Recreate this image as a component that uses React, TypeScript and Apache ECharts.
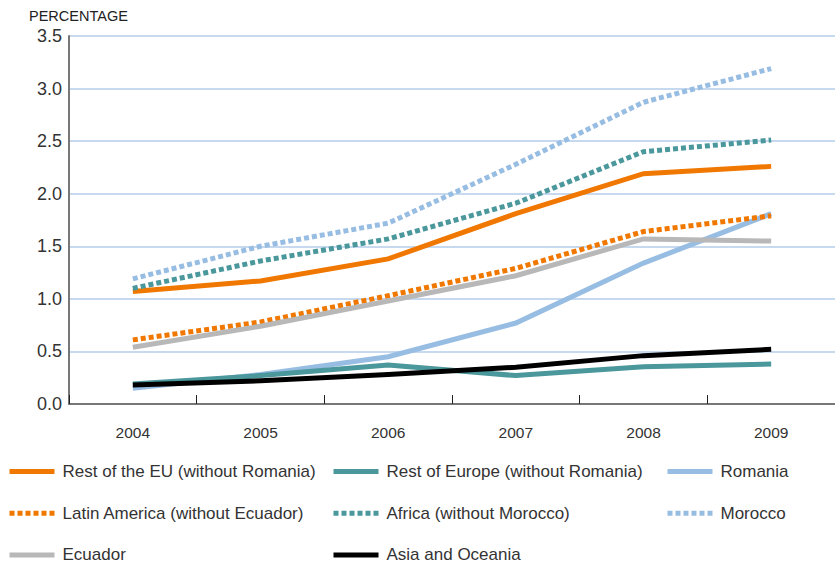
import React, { useEffect, useRef } from "react";
import * as echarts from "echarts";

const years = ["2004", "2005", "2006", "2007", "2008", "2009"];

const restEU = [1.07, 1.17, 1.38, 1.81, 2.19, 2.26];
const restEurope = [0.19, 0.27, 0.37, 0.27, 0.355, 0.38];
const romania = [0.15, 0.28, 0.45, 0.77, 1.34, 1.81];
const latinAmerica = [0.61, 0.78, 1.03, 1.29, 1.64, 1.79];
const africa = [1.1, 1.36, 1.57, 1.91, 2.4, 2.51];
const morocco = [1.19, 1.5, 1.72, 2.28, 2.87, 3.19];
const ecuador = [0.54, 0.74, 0.98, 1.22, 1.57, 1.55];
const asia = [0.18, 0.22, 0.28, 0.35, 0.46, 0.52];

const ORANGE = "#f07800";
const TEAL = "#4a979c";
const LBLUE = "#98bde3";
const GRAY = "#b8b8b8";
const BLACK = "#000000";

const FONT = "Liberation Sans";

export default function App() {
  const ref = useRef<HTMLDivElement>(null);
  useEffect(() => {
    if (!ref.current) return;
    const chart = echarts.init(ref.current, null, { renderer: "svg" });
    const mk = (name: string, data: number[], color: string, dotted: boolean) => ({
      name,
      type: "line",
      data,
      symbol: "none",
      showSymbol: false,
      lineStyle: {
        color,
        width: 5,
        type: dotted ? [5, 3] : "solid",
        cap: "butt",
        join: "miter",
      },
      itemStyle: { color },
    });
    const legendBase = {
      orient: "vertical",
      padding: 0,
      itemWidth: 45,
      itemHeight: 14,
      itemGap: 24.7,
      itemStyle: { opacity: 0 },
      lineStyle: { width: 5 },
      textStyle: { fontFamily: FONT, fontSize: 17, color: "#333", padding: [0, 0, 0, 3] },
      selectedMode: false,
    };
    chart.setOption({
      animation: false,
      backgroundColor: "#fff",
      graphic: [
        {
          type: "text",
          left: 29,
          top: 8,
          style: { text: "PERCENTAGE", fontFamily: FONT, fontSize: 14.5, fill: "#222" },
        },
      ],
      grid: { left: 69, top: 36, width: 771, height: 368, containLabel: false },
      xAxis: {
        type: "category",
        data: years,
        boundaryGap: true,
        axisLine: { lineStyle: { color: "#777", width: 2 } },
        axisTick: { show: true, inside: true, length: 9, lineStyle: { color: "#222", width: 1 } },
        axisLabel: { fontFamily: FONT, fontSize: 15.5, color: "#333", margin: 20 },
        splitLine: { show: false },
      },
      yAxis: {
        type: "value",
        min: 0,
        max: 3.5,
        interval: 0.5,
        axisLine: { show: true, lineStyle: { color: "#777", width: 2 } },
        axisTick: { show: false },
        axisLabel: {
          fontFamily: FONT,
          fontSize: 18,
          color: "#333",
          margin: 7,
          formatter: (v: number) => v.toFixed(1),
        },
        splitLine: { show: true, lineStyle: { color: "#b3cde9", width: 1.5 } },
      },
      legend: [
        {
          ...legendBase,
          left: 7,
          top: 463,
          data: ["Rest of the EU (without Romania)", "Latin America (without Ecuador)", "Ecuador"],
        },
        {
          ...legendBase,
          left: 331,
          top: 463,
          data: ["Rest of Europe (without Romania)", "Africa (without Morocco)", "Asia and Oceania"],
        },
        {
          ...legendBase,
          left: 665,
          top: 463,
          data: ["Romania", "Morocco"],
        },
      ],
      series: [
        mk("Rest of the EU (without Romania)", restEU, ORANGE, false),
        mk("Romania", romania, LBLUE, false),
        mk("Rest of Europe (without Romania)", restEurope, TEAL, false),
        mk("Latin America (without Ecuador)", latinAmerica, ORANGE, true),
        mk("Africa (without Morocco)", africa, TEAL, true),
        mk("Morocco", morocco, LBLUE, true),
        mk("Ecuador", ecuador, GRAY, false),
        mk("Asia and Oceania", asia, BLACK, false),
      ],
    });
    return () => chart.dispose();
  }, []);
  return <div ref={ref} style={{ width: 835, height: 567, position: "absolute", left: 0, top: 0 }} />;
}
